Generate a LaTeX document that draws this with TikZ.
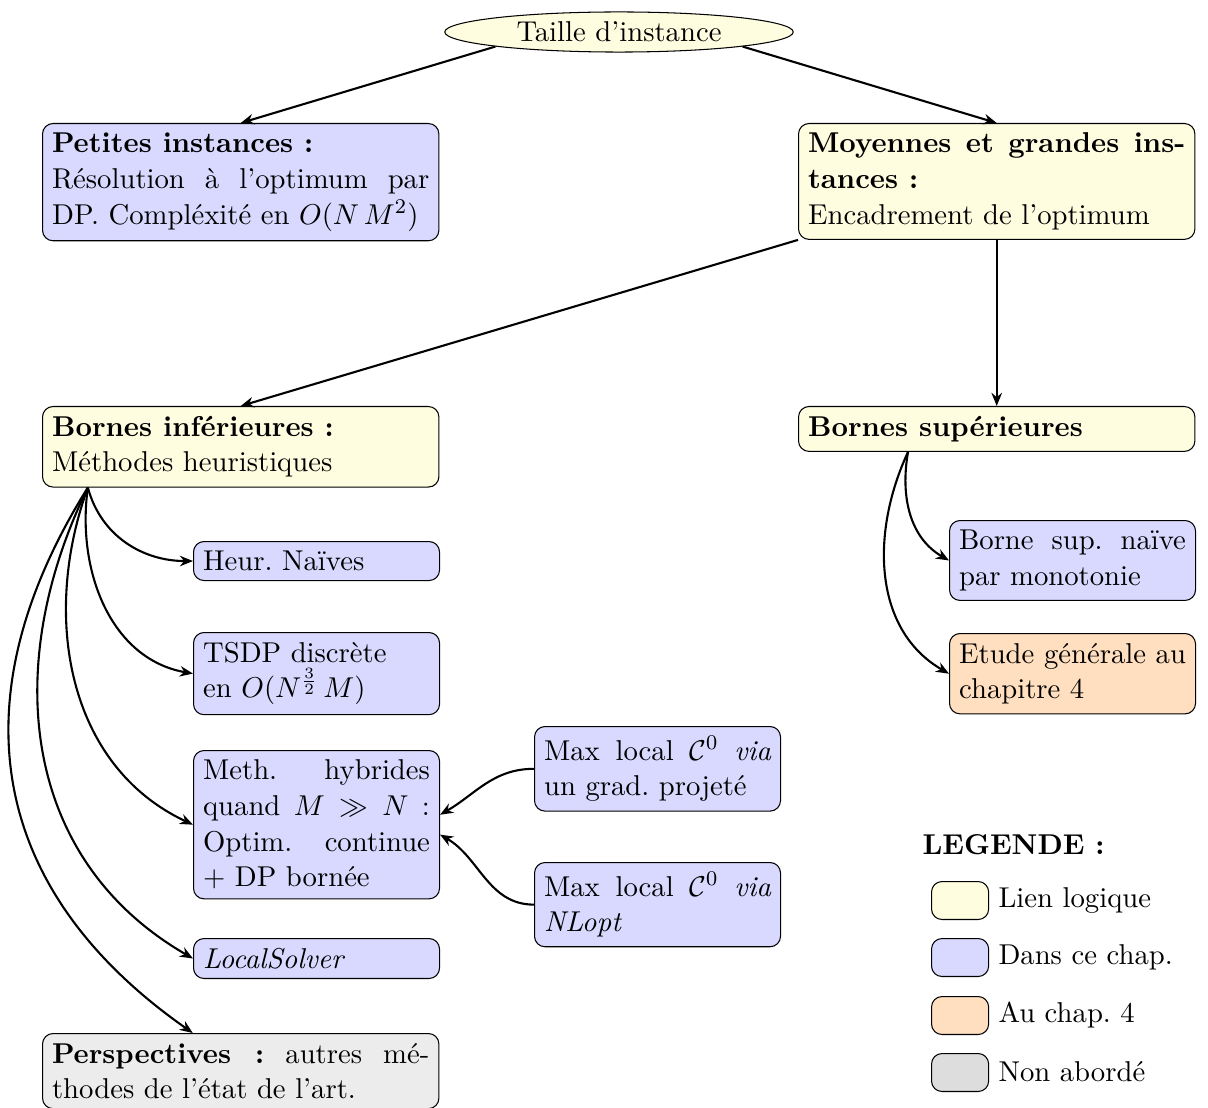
\documentclass[tikz,border=0pt,11pt]{standalone}
\usepackage{amsmath}
\usepackage{amssymb}
\usepackage{xcolor}
\usetikzlibrary{shapes.geometric,arrows.meta}
\frenchspacing

\begin{document}
\begin{tikzpicture}[x=0.3817pt,y=-0.3817pt]
\tikzstyle{boite}=[draw,rounded corners,align=justify,anchor=north west]
\tikzstyle{grande}=[boite,text width=144pt]
\tikzstyle{petite}=[boite,text width=86.6pt]
\tikzstyle{lien}=[fill=yellow!12]
\tikzstyle{chap}=[fill=blue!15]
\tikzstyle{quatre}=[fill=orange!25]
\tikzstyle{nonab}=[fill=gray!15]
\tikzstyle{fleche}=[thick,-{Stealth[length=5pt,width=4pt]}]
\tikzstyle{puce}=[draw,rounded corners,minimum width=21.8pt,minimum height=14.5pt,inner sep=0pt,anchor=north west]
\useasboundingbox (0,0) rectangle (1208,1108);

\node[ellipse,draw,lien,inner sep=1pt,minimum width=133pt,minimum height=15.3pt] (taille) at (619,32) {Taille d'instance};

\node[grande,chap] (petites) at (42,123) {\textbf{Petites instances :}\\ Résolution à l'optimum par DP. Compléxité en $O(N\,M^2)$};
\node[grande,lien] (moyennes) at (798,123) {\textbf{Moyennes et grandes ins\-tances :}\\ Encadrement de l'optimum};
\node[grande,lien] (binf) at (42,406) {\textbf{Bornes inférieures :}\\ Méthodes heuristiques};
\node[grande,lien] (bsup) at (798,406) {\textbf{Bornes supérieures}};

% bornes inferieures
\node[petite,chap] (heur) at (193,541) {Heur. Naïves};
\node[petite,chap] (tsdp) at (193,632) {TSDP discrète\\ en $O(N^{\frac{3}{2}}\,M)$};
\node[petite,chap] (hybr) at (193,750) {Meth. hybrides quand $M \gg N$ : Optim. continue + DP bornée};
\node[petite,chap] (lsolv) at (193,938) {\textit{LocalSolver}};
\node[grande,nonab] (persp) at (42,1033) {\textbf{Perspectives :} autres mé\-thodes de l'état de l'art.};
\node[petite,chap] (grad) at (534,726) {Max local $\mathcal{C}^0$ \textit{via} un grad. projeté};
\node[petite,chap] (nlopt) at (534,862) {Max local $\mathcal{C}^0$ \textit{via} \textit{NLopt}};

% bornes superieures
\node[petite,chap] (naive) at (949,520) {Borne sup. naïve par monotonie};
\node[petite,quatre] (etude) at (949,633) {Etude générale au chapitre 4};

% legende
\node[anchor=west,inner sep=0pt] (leg) at (922,845) {\textbf{LEGENDE :}};
\node[puce,lien] (p1) at (931,881) {};
\node[puce,chap] (p2) at (931,938) {};
\node[puce,quatre] (p3) at (931,996) {};
\node[puce,fill=gray!27] (p4) at (931,1053) {};
\node[anchor=west,inner sep=0pt] (l1) at (998,900) {Lien logique};
\node[anchor=west,inner sep=0pt] (l2) at (998,957) {Dans ce chap.};
\node[anchor=west,inner sep=0pt] (l3) at (998,1015) {Au chap. 4};
\node[anchor=west,inner sep=0pt] (l4) at (998,1072) {Non abordé};

\draw[fleche] (taille.south west) -- (petites.north);
\draw[fleche] (taille.south east) -- (moyennes.north);
\draw[fleche] (moyennes.south west) -- (binf.north);
\draw[fleche] (moyennes.south) -- (bsup.north);

\draw[fleche] ([xshift=17.5pt]binf.south west) to[out=-75,in=180] (heur.west);
\draw[fleche] ([xshift=17.5pt]binf.south west) to[out=-98,in=170] (tsdp.west);
\draw[fleche] ([xshift=17.5pt]binf.south west) to[out=-110,in=155] (hybr.west);
\draw[fleche] ([xshift=17.5pt]binf.south west) to[out=-116,in=150,looseness=1.05] (lsolv.west);
\draw[fleche] ([xshift=17.5pt]binf.south west) to[out=-122,in=145,looseness=1.15] ([xshift=-18.3pt]persp.north);

\draw[fleche] (grad.west) to[out=180,in=30] ([yshift=3.8pt]hybr.east);
\draw[fleche] (nlopt.west) to[out=180,in=-30] ([yshift=-3.8pt]hybr.east);

\draw[fleche] ([xshift=42pt]bsup.south west) to[out=-100,in=150] (naive.west);
\draw[fleche] ([xshift=42pt]bsup.south west) to[out=-115,in=150] (etude.west);
\end{tikzpicture}
\end{document}
